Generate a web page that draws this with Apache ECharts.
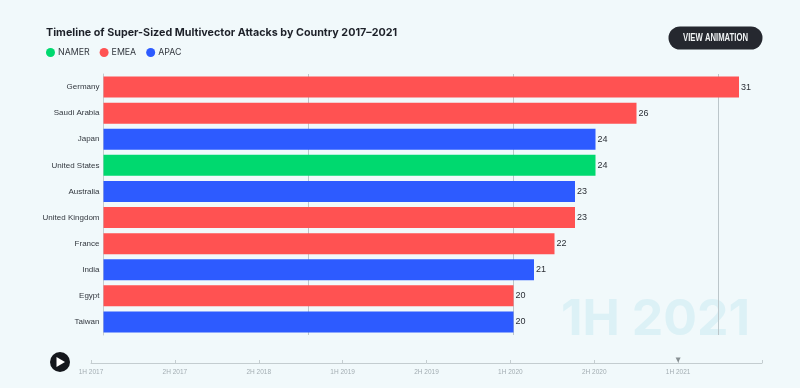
<!DOCTYPE html>
<html>
<head>
<meta charset="utf-8">
<style>
  html, body { margin: 0; padding: 0; background: #f1f9fb; }
  #main { width: 800px; height: 388px; }
</style>
<script src="https://cdn.jsdelivr.net/npm/echarts@6/dist/echarts.min.js"></script>
</head>
<body>
<div id="main"></div>
<script>
var countries = ['Germany', 'Saudi Arabia', 'Japan', 'United States', 'Australia', 'United Kingdom', 'France', 'India', 'Egypt', 'Taiwan'];
var namer = [null, null, null, 24, null, null, null, null, null, null];
var emea = [31, 26, null, null, null, 23, 22, null, 20, null];
var apac = [null, null, 24, null, 23, null, null, 21, null, 20];
var periods = ['1H 2017', '2H 2017', '2H 2018', '1H 2019', '2H 2019', '1H 2020', '2H 2020', '1H 2021', ''];
var currentPeriod = '1H 2021';

var fontName = 'Inter, "Liberation Sans", sans-serif';
var labelFont = '"Liberation Sans", Arial, sans-serif';

function barSeries(name, data, color) {
    return {
        name: name,
        type: 'bar',
        stack: 'total',
        data: data,
        barWidth: 21,
        itemStyle: { color: color },
        label: {
            show: true,
            position: 'right',
            distance: 2,
            color: '#2b2f36',
            fontFamily: labelFont,
            fontSize: 9
        }
    };
}

var chart = echarts.init(document.getElementById('main'));

chart.setOption({
    animation: false,
    backgroundColor: '#f1f9fb',
    title: {
        text: 'Timeline of Super-Sized Multivector Attacks by Country 2017\u20132021',
        left: 41,
        top: 22,
        textStyle: { color: '#1d2129', fontFamily: fontName, fontSize: 10.75, fontWeight: 700 }
    },
    legend: {
        left: 41,
        top: 43,
        icon: 'circle',
        itemWidth: 9,
        itemHeight: 9,
        itemGap: 10,
        selectedMode: false,
        data: ['NAMER', 'EMEA', 'APAC'],
        textStyle: { color: '#33383f', fontFamily: fontName, fontSize: 8.8, padding: [0, 0, 0, -2] }
    },
    grid: [
        { left: 103.5, width: 656, top: 74, height: 261 },
        { left: 91, width: 671, top: 362, height: 1 }
    ],
    xAxis: [
        {
            type: 'value',
            gridIndex: 0,
            min: 0,
            max: 32,
            interval: 10,
            position: 'top',
            axisLine: { show: false },
            axisTick: { show: false },
            axisLabel: { show: false },
            splitLine: { show: true, showMaxLine: false, lineStyle: { color: '#bcc6ca', width: 1 } }
        },
        {
            type: 'category',
            gridIndex: 1,
            data: periods,
            boundaryGap: false,
            position: 'bottom',
            axisLine: { show: true, lineStyle: { color: '#c4cdd0', width: 1 } },
            axisTick: { show: true, inside: true, length: 3, alignWithLabel: true, lineStyle: { color: '#c4cdd0' } },
            axisLabel: { show: true, interval: 0, margin: 6, color: '#a3adb2', fontFamily: labelFont, fontSize: 6.5 },
            splitLine: { show: false }
        }
    ],
    yAxis: [
        {
            type: 'category',
            gridIndex: 0,
            data: countries,
            inverse: true,
            axisLine: { show: true, lineStyle: { color: '#c4cdd0' } },
            axisTick: { show: false },
            axisLabel: { margin: 4, color: '#33383f', fontFamily: labelFont, fontSize: 8 }
        },
        {
            type: 'value',
            gridIndex: 1,
            min: 0,
            max: 1,
            show: false
        }
    ],
    series: [
        barSeries('NAMER', namer, '#00d96f'),
        barSeries('EMEA', emea, '#ff5252'),
        barSeries('APAC', apac, '#2d5bff'),
        {
            name: 'current',
            type: 'scatter',
            xAxisIndex: 1,
            yAxisIndex: 1,
            data: [[currentPeriod, 0]],
            symbol: 'triangle',
            symbolRotate: 180,
            symbolSize: 5,
            symbolOffset: [0, -3],
            itemStyle: { color: '#6f777b' },
            silent: true
        }
    ],
    graphic: [
        {
            type: 'text',
            z: -1,
            left: 561,
            top: 295,
            style: { text: currentPeriod, fill: '#dcf1f6', font: '700 50px ' + fontName }
        },
        {
            type: 'rect',
            shape: { x: 668.5, y: 26.5, width: 94, height: 23, r: 11.5 },
            style: { fill: '#25282f' }
        },
        {
            type: 'text',
            x: 715.5,
            y: 38,
            scaleX: 0.7,
            style: {
                text: 'VIEW ANIMATION',
                fill: '#f1f4f5',
                font: '700 11px "Liberation Sans", sans-serif',
                align: 'center',
                verticalAlign: 'middle'
            }
        },
        {
            type: 'circle',
            shape: { cx: 60, cy: 362, r: 10 },
            style: { fill: '#14171c' }
        },
        {
            type: 'polygon',
            shape: { points: [[56.5, 357], [56.5, 367], [65, 362]] },
            style: { fill: '#ffffff' }
        }
    ]
});
</script>
</body>
</html>
